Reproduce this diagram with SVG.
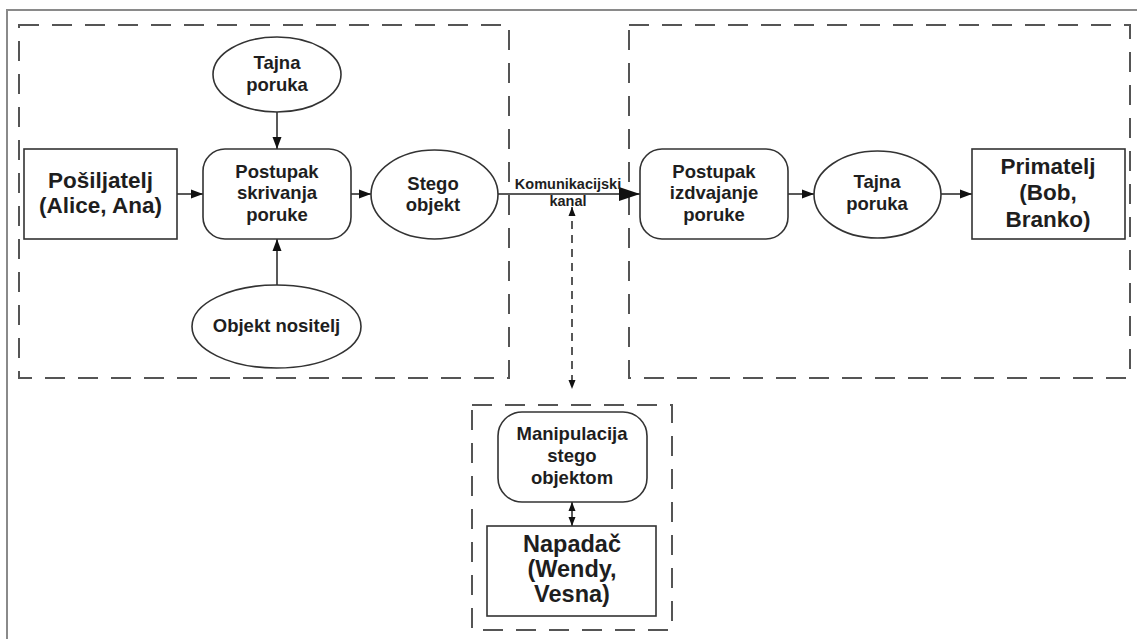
<svg xmlns="http://www.w3.org/2000/svg" width="1137" height="639" viewBox="0 0 1137 639">
<style>
.frame{fill:none;stroke:#8a8a8a;stroke-width:2}
.grp{fill:none;stroke:#555;stroke-width:2;stroke-dasharray:20 13}
.node{fill:#fff;stroke:#333;stroke-width:1.6}
.t{font-family:"Liberation Sans",Arial,sans-serif;font-weight:bold;fill:#1e1e1e;text-anchor:middle}
.s17{font-size:18.5px}
.s21{font-size:22.5px}
.s23{font-size:23.5px}
.lbl{font-size:14.5px}
.c{fill:none;stroke:#222;stroke-width:1.5}
.cd{fill:none;stroke:#222;stroke-width:1.5;stroke-dasharray:8 6}
</style>
<defs>
<marker id="ah" markerUnits="userSpaceOnUse" markerWidth="12" markerHeight="10" refX="12" refY="5" orient="auto-start-reverse" viewBox="0 0 12 10">
<path d="M0,0.5 L12,5 L0,9.5 z" fill="#111"/>
</marker>
<marker id="ahb" markerUnits="userSpaceOnUse" markerWidth="21" markerHeight="14" refX="21" refY="7" orient="auto" viewBox="0 0 21 14">
<path d="M0,0 L21,7 L0,14 z" fill="#111"/>
</marker>
<marker id="ahs" markerUnits="userSpaceOnUse" markerWidth="9" markerHeight="8" refX="9" refY="4" orient="auto-start-reverse" viewBox="0 0 9 8">
<path d="M0,0.5 L9,4 L0,7.5 z" fill="#111"/>
</marker>
</defs>
<rect width="1137" height="639" fill="#fff"/>
<rect class="frame" x="7" y="10" width="1140" height="640"/>
<g id="groups">
<rect id="grp-sender" class="grp" x="19" y="25" width="490" height="353"/>
<rect id="grp-receiver" class="grp" x="629" y="25" width="501" height="353"/>
<rect id="grp-attacker" class="grp" x="472" y="405" width="200" height="225"/>
</g>
<g id="connectors">
<line class="c" x1="177" y1="194" x2="203" y2="194" marker-end="url(#ah)"/>
<line class="c" x1="277" y1="112" x2="277" y2="149" marker-end="url(#ah)"/>
<line class="c" x1="277" y1="285" x2="277" y2="239" marker-end="url(#ah)"/>
<line class="c" x1="351" y1="194" x2="371" y2="194" marker-end="url(#ah)"/>
<line class="c" x1="498" y1="194" x2="640" y2="194" stroke-width="2" marker-end="url(#ahb)"/>
<line class="c" x1="788" y1="194" x2="814" y2="194" marker-end="url(#ah)"/>
<line class="c" x1="941" y1="194" x2="972" y2="194" marker-end="url(#ah)"/>
<line class="cd" x1="572" y1="207" x2="572" y2="389" marker-start="url(#ahs)" marker-end="url(#ahs)"/>
<line class="c" x1="572" y1="502" x2="572" y2="526" marker-start="url(#ahs)" marker-end="url(#ahs)"/>
<text class="t lbl" x="568" y="189">Komunikacijski</text>
<text class="t lbl" x="568" y="206">kanal</text>
</g>
<g id="n-sender">
<rect class="node" x="24" y="149" width="153" height="90"/>
<text class="t s21" x="100.5" y="188">Pošiljatelj</text>
<text class="t s21" x="100.5" y="213">(Alice, Ana)</text>
</g>
<g id="n-secret1">
<ellipse class="node" cx="277" cy="74.5" rx="64" ry="37.5"/>
<text class="t s17" x="277" y="69">Tajna</text>
<text class="t s17" x="277" y="91">poruka</text>
</g>
<g id="n-hide">
<rect class="node" x="203" y="149" width="148" height="90" rx="22" ry="22"/>
<text class="t s17" x="277" y="178">Postupak</text>
<text class="t s17" x="277" y="199">skrivanja</text>
<text class="t s17" x="277" y="221">poruke</text>
</g>
<g id="n-carrier">
<ellipse class="node" cx="276.5" cy="326.5" rx="84.5" ry="41.5"/>
<text class="t s17" x="276.5" y="332">Objekt nositelj</text>
</g>
<g id="n-stego">
<ellipse class="node" cx="434.5" cy="194.5" rx="63.5" ry="44.5"/>
<text class="t s17" x="433" y="190">Stego</text>
<text class="t s17" x="433" y="211">objekt</text>
</g>
<g id="n-extract">
<rect class="node" x="640" y="149" width="148" height="90" rx="22" ry="22"/>
<text class="t s17" x="714" y="178">Postupak</text>
<text class="t s17" x="714" y="199">izdvajanje</text>
<text class="t s17" x="714" y="221">poruke</text>
</g>
<g id="n-secret2">
<ellipse class="node" cx="877.5" cy="194.5" rx="63.5" ry="43.5"/>
<text class="t s17" x="877" y="188">Tajna</text>
<text class="t s17" x="877" y="210">poruka</text>
</g>
<g id="n-receiver">
<rect class="node" x="972" y="149" width="153" height="90"/>
<text class="t s21" x="1048" y="174">Primatelj</text>
<text class="t s21" x="1048" y="200">(Bob,</text>
<text class="t s21" x="1048" y="227">Branko)</text>
</g>
<g id="n-manip">
<rect class="node" x="498" y="412" width="149" height="90" rx="24" ry="24"/>
<text class="t s17" x="572" y="440">Manipulacija</text>
<text class="t s17" x="572" y="462">stego</text>
<text class="t s17" x="572" y="484">objektom</text>
</g>
<g id="n-attacker">
<rect class="node" x="487" y="526" width="169" height="90"/>
<text class="t s23" x="572" y="552">Napadač</text>
<text class="t s23" x="572" y="577">(Wendy,</text>
<text class="t s23" x="572" y="602">Vesna)</text>
</g>
</svg>
